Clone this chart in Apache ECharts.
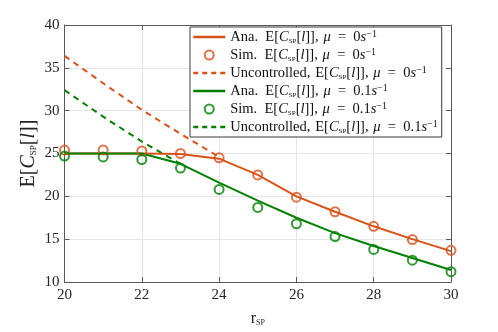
<!DOCTYPE html>
<html>
<head>
<meta charset="utf-8">
<script src="https://cdn.jsdelivr.net/npm/echarts@6/dist/echarts.min.js"></script>
<style>html,body{margin:0;padding:0;background:#fff}#c{width:498px;height:332px}</style>
</head>
<body>
<div id="c"></div>
<script>
// ---- data ----
var xVals = [20, 21, 22, 23, 24, 25, 26, 27, 28, 29, 30];
var anaMu0 = [25.0, 25.0, 25.0, 24.95, 24.4, 22.5, 20.0, 18.2, 16.5, 15.0, 13.6];
var simMu0 = [25.4, 25.4, 25.3, 25.0, 24.5, 22.5, 19.9, 18.2, 16.5, 14.95, 13.7];
var uncMu0X = [20, 21, 22, 23, 24];
var uncMu0 = [36.4, 33.2, 30.1, 27.3, 24.6];
var anaMu1 = [25.0, 25.0, 25.0, 23.8, 21.6, 19.5, 17.5, 15.7, 14.2, 12.8, 11.4];
var simMu1 = [24.7, 24.6, 24.3, 23.3, 20.8, 18.7, 16.8, 15.3, 13.8, 12.55, 11.2];
var uncMu1X = [20, 21, 22, 23];
var uncMu1 = [32.4, 29.3, 26.4, 23.8];
var xTicks = [20, 22, 24, 26, 28, 30];
var yTicks = [10, 15, 20, 25, 30, 35, 40];

var ORANGE = '#D95319';
var GREEN = '#008000';
var FONT = 'Liberation Serif';

function pairs(xs, ys) { return xs.map(function (x, i) { return [x, ys[i]]; }); }

var SP = '\u2002';
var ece = 'E[{i|C}{sub|SP}[{i|l}]],\u2004{i|μ}' + SP + '=' + SP;
var legendText = {
  a0: 'Ana.\u2002' + ece + '0{i|s}{sup|−1}',
  s0: 'Sim.\u2002' + ece + '0{i|s}{sup|−1}',
  u0: 'Uncontrolled,\u2004' + ece + '0{i|s}{sup|−1}',
  a1: 'Ana.\u2002' + ece + '0.1{i|s}{sup|−1}',
  s1: 'Sim.\u2002' + ece + '0.1{i|s}{sup|−1}',
  u1: 'Uncontrolled,\u2004' + ece + '0.1{i|s}{sup|−1}'
};

var axisColor = '#5a5a5a';
var hideSym = {opacity: 0};
var lw = {width: 2.5};
var chart = echarts.init(document.getElementById('c'), null, {renderer: 'canvas'});
chart.setOption({
  animation: false,
  backgroundColor: '#fff',
  grid: {left: 64.5, right: 47, top: 25, bottom: 45.3, containLabel: false},
  xAxis: [{
    type: 'value', min: 20, max: 30, interval: 2,
    name: '{r|r}{sub|SP}', nameLocation: 'middle', nameGap: 29, nameMoveOverlap: false,
    nameTextStyle: {fontFamily: FONT, color: '#222', rich: {
      r: {fontFamily: FONT, fontSize: 16, color: '#222', lineHeight: 16},
      sub: {fontFamily: FONT, fontSize: 8, color: '#222', verticalAlign: 'bottom', lineHeight: 10}
    }},
    axisLine: {lineStyle: {color: axisColor, width: 1}},
    axisTick: {inside: true, length: 5, lineStyle: {color: axisColor}},
    axisLabel: {fontFamily: FONT, fontSize: 15, color: '#262626', margin: 6},
    splitLine: {show: true, lineStyle: {color: '#e6e6e6', width: 1}}
  }, {
    type: 'value', min: 20, max: 30, interval: 2, position: 'top',
    axisLine: {show: true, lineStyle: {color: axisColor, width: 1}},
    axisTick: {inside: true, length: 5, lineStyle: {color: axisColor}},
    axisLabel: {show: false}, splitLine: {show: false}
  }],
  yAxis: [{
    type: 'value', min: 10, max: 40, interval: 5,
    name: 'E[{i|C}{sub|SP}[{i|l}]]', nameLocation: 'middle', nameGap: 26, nameRotate: 90,
    nameMoveOverlap: false,
    nameTextStyle: {fontFamily: FONT, fontSize: 20, color: '#222', rich: {
      i: {fontFamily: FONT, fontStyle: 'italic', fontSize: 20, color: '#222'},
      sub: {fontFamily: FONT, fontSize: 9, color: '#222', verticalAlign: 'bottom', lineHeight: 13}
    }},
    axisLine: {show: true, lineStyle: {color: axisColor, width: 1}},
    axisTick: {inside: true, length: 5, lineStyle: {color: axisColor}},
    axisLabel: {fontFamily: FONT, fontSize: 15, color: '#262626', margin: 5},
    splitLine: {show: true, lineStyle: {color: '#e6e6e6', width: 1}}
  }, {
    type: 'value', min: 10, max: 40, interval: 5, position: 'right',
    axisLine: {show: true, lineStyle: {color: axisColor, width: 1}},
    axisTick: {inside: true, length: 5, lineStyle: {color: axisColor}},
    axisLabel: {show: false}, splitLine: {show: false}
  }],
  legend: {
    orient: 'vertical', left: 190, top: 27,
    backgroundColor: '#fff', borderColor: '#3a3a3a', borderWidth: 1,
    padding: [2, 4, 2, 2], itemGap: 2, itemWidth: 32, itemHeight: 9,
    data: [
      {name: 'a0', itemStyle: hideSym, lineStyle: lw}, {name: 's0'},
      {name: 'u0', itemStyle: hideSym, lineStyle: {width: 2.5, type: [5, 4]}},
      {name: 'a1', itemStyle: hideSym, lineStyle: lw}, {name: 's1'},
      {name: 'u1', itemStyle: hideSym, lineStyle: {width: 2.5, type: [5, 4]}}
    ],
    formatter: function (n) { return legendText[n]; },
    textStyle: {fontFamily: FONT, fontSize: 14.5, color: '#111', lineHeight: 16, rich: {
      i: {fontFamily: FONT, fontStyle: 'italic', fontSize: 14.5, color: '#111', lineHeight: 16},
      sub: {fontFamily: FONT, fontSize: 7, color: '#111', verticalAlign: 'bottom', lineHeight: 10},
      sup: {fontFamily: FONT, fontSize: 10, color: '#111', verticalAlign: 'top', lineHeight: 10}
    }}
  },
  series: [
    {name: 'a0', type: 'line', data: pairs(xVals, anaMu0), showSymbol: false, symbol: 'none',
     lineStyle: {color: ORANGE, width: 2}, itemStyle: {color: ORANGE}, z: 3},
    {name: 's0', type: 'scatter', data: pairs(xVals, simMu0), symbol: 'circle', symbolSize: 9,
     itemStyle: {color: 'rgba(0,0,0,0)', borderColor: ORANGE, borderWidth: 2}, z: 4},
    {name: 'u0', type: 'line', data: pairs(uncMu0X, uncMu0), showSymbol: false, symbol: 'none',
     lineStyle: {color: ORANGE, width: 2, type: [6, 5]}, itemStyle: {color: ORANGE}, z: 2},
    {name: 'a1', type: 'line', data: pairs(xVals, anaMu1), showSymbol: false, symbol: 'none',
     lineStyle: {color: GREEN, width: 2}, itemStyle: {color: GREEN}, z: 3},
    {name: 's1', type: 'scatter', data: pairs(xVals, simMu1), symbol: 'circle', symbolSize: 9,
     itemStyle: {color: 'rgba(0,0,0,0)', borderColor: GREEN, borderWidth: 2}, z: 4},
    {name: 'u1', type: 'line', data: pairs(uncMu1X, uncMu1), showSymbol: false, symbol: 'none',
     lineStyle: {color: GREEN, width: 2, type: [6, 5]}, itemStyle: {color: GREEN}, z: 2}
  ]
});
</script>
</body>
</html>
